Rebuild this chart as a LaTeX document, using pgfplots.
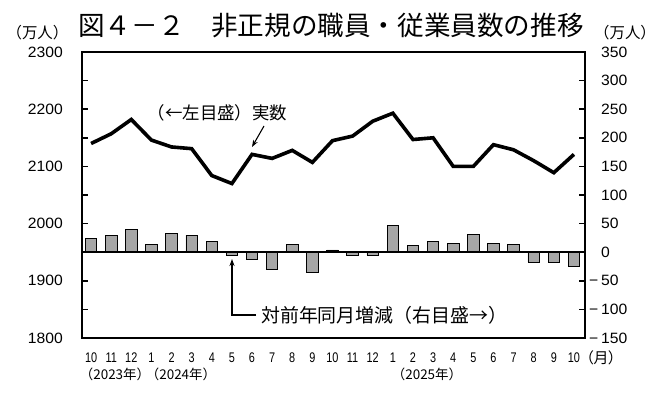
\documentclass[border=0pt]{standalone}
\usepackage{pgfplots}
\pgfplotsset{compat=1.18}
\usetikzlibrary{arrows.meta}
\usepackage{fontspec}
\setmainfont{Liberation Sans}
\newfontfamily\jp{Noto Sans CJK JP}
\newfontfamily\jpp[RawFeature=+palt]{Noto Sans CJK JP}
\newfontfamily\narrow[FakeStretch=0.78]{Liberation Sans}
\newfontfamily\tickf[FakeStretch=1.05]{Liberation Sans}
\definecolor{barg}{RGB}{166,166,166}
\newcommand{\tickfont}{\tickf\fontsize{15}{17}\selectfont}
\newcommand{\monthfont}{\narrow\fontsize{14}{16}\selectfont}
\newcommand{\mm}{\llap{−\kern3bp}}
\begin{document}
\begin{tikzpicture}[x=1bp,y=1bp]
\useasboundingbox (0,0) rectangle (669,392);
% bars, right axis
\begin{axis}[
  at={(82bp,54bp)}, anchor=south west, scale only axis,
  width=503bp, height=286bp,
  xmin=-0.45, xmax=24.55, ymin=-150, ymax=350,
  ytick={-150,-100,...,350},
  yticklabels={\mm150,\mm100,\mm50,0,50,100,150,200,250,300,350},
  ytick pos=right, tick align=inside, major tick length=6bp,
  yticklabel style={font=\tickfont, anchor=west, inner sep=0pt, xshift=16bp},
  xtick={0,...,24},
  xticklabels={10,11,12,1,2,3,4,5,6,7,8,9,10,11,12,1,2,3,4,5,6,7,8,9,10},
  xtick style={draw=none},
  xticklabel style={font=\monthfont, anchor=base, inner sep=0pt, yshift=-24bp},
  axis line style={line width=2.2bp, black},
  major tick style={line width=1.6bp, black},
]
\addplot[ybar, bar width=11.5bp, fill=barg, draw=black, line width=0.8bp]
  coordinates {(0,23.5)(1,30)(2,39)(3,13)(4,32)(5,30)(6,19)(7,-5)(8,-13)(9,-30)
  (10,13)(11,-35)(12,4)(13,-6)(14,-5)(15,46)(16,12)(17,19)(18,16)(19,31)
  (20,15)(21,14)(22,-17)(23,-17)(24,-24)};
\addplot[black, line width=1.8bp, forget plot] coordinates {(-0.45,0) (24.55,0)};
\end{axis}
% line, left axis
\begin{axis}[
  at={(82bp,54bp)}, anchor=south west, scale only axis,
  width=503bp, height=286bp,
  xmin=-0.45, xmax=24.55, ymin=1800, ymax=2300,
  axis x line=none, axis y line*=left,
  ytick={1800,1850,...,2300},
  yticklabels={1800,,1900,,2000,,2100,,2200,,2300},
  tick align=inside, major tick length=6bp,
  yticklabel style={font=\tickfont, anchor=east, inner sep=0pt, xshift=-19bp},
  axis line style={line width=2.2bp, black},
  major tick style={line width=1.6bp, black},
]
\addplot[black, line width=3.6bp, mark=none]
  coordinates {(0,2140)(1,2157)(2,2182)(3,2146)(4,2134)(5,2131)(6,2084)(7,2070)
  (8,2121)(9,2114)(10,2128)(11,2107)(12,2145)(13,2153)(14,2179)(15,2193)
  (16,2147)(17,2150)(18,2100)(19,2100)(20,2138)(21,2129)(22,2110)(23,2089)(24,2121)};
\end{axis}
% titles and annotations
\node[font=\jp\fontsize{26.7}{30}\selectfont] at (331,366) {図４－２　非正規の職員・従業員数の推移};
\node[font=\jp\fontsize{15.5}{17}\selectfont] at (37.5,359) {（万人）};
\node[font=\jp\fontsize{15.5}{17}\selectfont] at (625,359) {（万人）};
\node[font=\jp\fontsize{17.5}{19}\selectfont] at (217.5,279) {（←左目盛）実数};
\draw[line width=1.1bp, -{Stealth[length=7bp,width=5bp]}] (264,266) -- (252,245);
\node[font=\jp\fontsize{19}{21}\selectfont, anchor=west, inner sep=0pt] at (261,77) {対前年同月増減（右目盛→）};
\draw[line width=1.1bp, -{Stealth[length=7bp,width=5bp]}] (256,77) -- (232,77) -- (232,133);
\node[font=\jp\fontsize{13.5}{15}\selectfont] at (115,18) {（2023年）};
\node[font=\jp\fontsize{13.5}{15}\selectfont] at (181,18) {（2024年）};
\node[font=\jp\fontsize{13.5}{15}\selectfont] at (427,18) {（2025年）};
\node[font=\jpp\fontsize{15}{17}\selectfont] at (601,34) {（月）};
\end{tikzpicture}
\end{document}
